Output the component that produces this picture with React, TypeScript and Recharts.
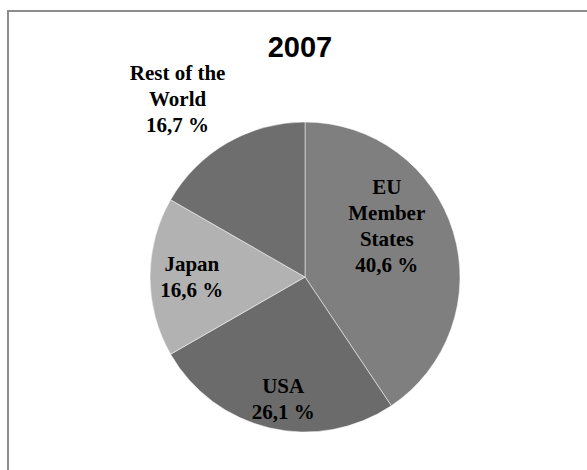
import { PieChart, Pie, Cell } from "recharts";

const regions = ["EU Member States", "USA", "Japan", "Rest of the World"];
const shares = [40.6, 26.1, 16.6, 16.7];
const labelLines = [["EU", "Member", "States"], ["USA"], ["Japan"], ["Rest of the", "World"]];
const sliceColors = ["#7f7f7f", "#6b6b6b", "#b2b2b2", "#6e6e6e"];

// where each label sits: fraction of the radius and an angle nudge (deg) from the slice middle
const labelPlacement = [
  { r: 0.62, shift: 14.8 },
  { r: 0.8, shift: 3 },
  { r: 0.73, shift: 0 },
  { r: 1.41, shift: 5.6 },
];

const data = regions.map((name, i) => ({ name, value: shares[i] }));

const RADIAN = Math.PI / 180;
const LINE = 26;

function fmt(v: number) {
  return `${v.toFixed(1).replace(".", ",")} %`;
}

function renderLabel(props: any) {
  const { cx, cy, midAngle, outerRadius, index, value } = props;
  const place = labelPlacement[index];
  const a = (midAngle + place.shift) * RADIAN;
  const r = outerRadius * place.r;
  const x = cx + r * Math.cos(a);
  const y = cy - r * Math.sin(a);
  const lines = [...labelLines[index], fmt(value)];
  return (
    <text
      x={x}
      y={y}
      textAnchor="middle"
      fontFamily="'Liberation Serif', 'Times New Roman', serif"
      fontWeight="bold"
      fontSize={21}
      fill="#000"
    >
      {lines.map((ln, i) => (
        <tspan key={i} x={x} y={y + (i - (lines.length - 1) / 2) * LINE} dominantBaseline="central">
          {ln}
        </tspan>
      ))}
    </text>
  );
}

export default function App() {
  return (
    <div
      style={{
        position: "absolute",
        left: 0,
        top: 0,
        width: 587,
        height: 470,
        overflow: "hidden",
        background: "#fff",
      }}
    >
      <div
        style={{
          position: "absolute",
          left: 7,
          top: 10,
          width: 620,
          height: 520,
          border: "2px solid #8c8c8c",
        }}
      />
      <div
        style={{
          position: "absolute",
          left: 0,
          top: 30,
          width: 600,
          textAlign: "center",
          fontFamily: "'Liberation Sans', Arial, sans-serif",
          fontWeight: "bold",
          fontSize: 29,
          lineHeight: "34px",
        }}
      >
        2007
      </div>
      <div style={{ position: "absolute", left: 0, top: 0 }}>
        <PieChart width={587} height={470}>
          <Pie
            data={data}
            dataKey="value"
            nameKey="name"
            cx={300}
            cy={272}
            outerRadius={155}
            startAngle={90}
            endAngle={-270}
            stroke="#ffffff"
            strokeWidth={0.5}
            labelLine={false}
            label={renderLabel}
            isAnimationActive={false}
          >
            {data.map((d, i) => (
              <Cell key={d.name} fill={sliceColors[i]} />
            ))}
          </Pie>
        </PieChart>
      </div>
    </div>
  );
}
